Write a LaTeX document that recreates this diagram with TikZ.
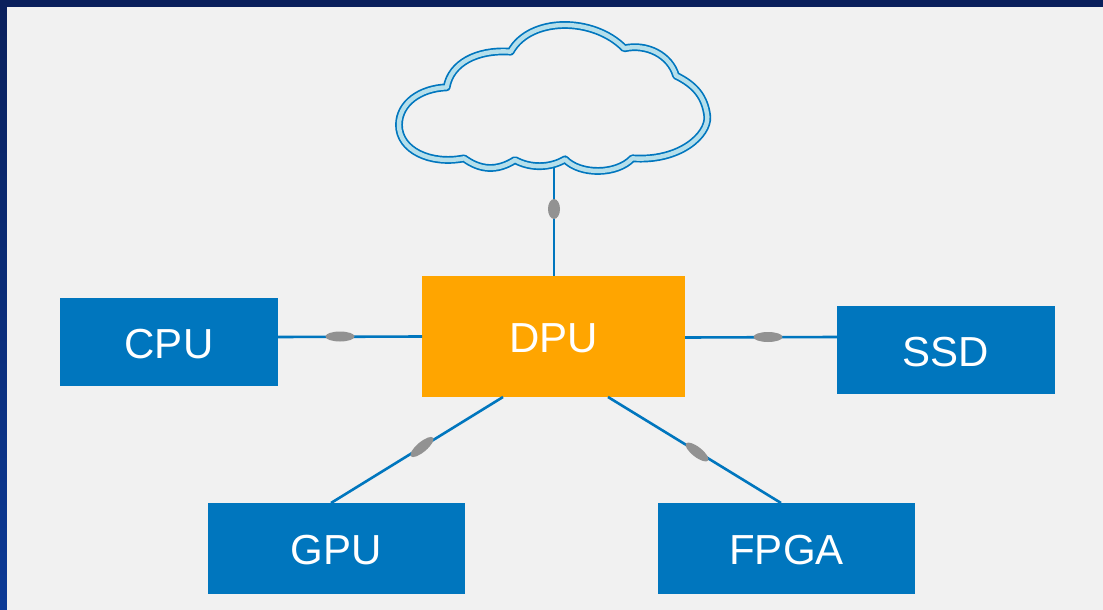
\documentclass[tikz,border=0pt]{standalone}
\usepackage{fontspec}
\setmainfont{Liberation Sans}
\usetikzlibrary{shapes.geometric,calc}
\definecolor{navytop}{HTML}{0A205C}
\definecolor{navybot}{HTML}{0B3A96}
\definecolor{panel}{HTML}{F1F1F1}
\definecolor{boxblue}{HTML}{0076BE}
\definecolor{orangebox}{HTML}{FFA500}
\definecolor{lenscol}{HTML}{929292}
\definecolor{cloudfill}{HTML}{B5DFEB}
\tikzset{
  labeltext/.style={text=white,inner sep=0pt,text height=32.4pt,text depth=0pt,font=\fontsize{42}{50}\selectfont},
  unitbox/.style={fill=boxblue,labeltext},
  dpubox/.style={fill=orangebox,labeltext},
  link/.style={draw=boxblue,line width=2.6pt},
  lens/.style={ellipse,fill=lenscol,inner sep=0pt,minimum width=29pt,minimum height=10pt}
}
\begin{document}
\begin{tikzpicture}[x=1pt,y=-1pt]
\useasboundingbox (0,0) rectangle (1103,610);
\shade[top color=navytop,bottom color=navybot] (0,0) rectangle (1103,610);
\fill[panel] (7,7) rectangle (1103,610);
% cloud
\begin{scope}[shift={(380,10)},x=.33333pt,y=-.33333pt]
\def\cloudpath{(200,232) .. controls (212,160) and (290,118) .. (392,125)
 .. controls (450,20) and (640,20) .. (733,115)
 .. controls (800,100) and (870,135) .. (888,197)
 .. controls (945,225) and (975,260) .. (982,320)
 .. controls (985,375) and (900,455) .. (757,445)
 .. controls (710,495) and (600,495) .. (555,448)
 .. controls (510,475) and (450,475) .. (405,450)
 .. controls (350,485) and (300,480) .. (252,445)
 .. controls (150,465) and (57,420) .. (57,345)
 .. controls (57,280) and (120,235) .. (200,232) -- cycle}
\draw[boxblue,line width=7.8pt,line join=round] \cloudpath;
\draw[cloudfill,line width=4.4pt,line join=round] \cloudpath;
\end{scope}
% boxes
\node[unitbox,minimum width=218pt,minimum height=88pt] (cpu) at (169,342) {CPU};
\node[dpubox,minimum width=263pt,minimum height=121pt] (dpu) at (553.5,336.5) {DPU};
\node[unitbox,minimum width=218pt,minimum height=88pt] (ssd) at (946,350) {SSD};
\node[unitbox,minimum width=257pt,minimum height=91pt] (gpu) at (336.5,548.5) {GPU};
\node[unitbox,minimum width=257pt,minimum height=91pt] (fpga) at (786.5,548.5) {FPGA};
% connector ends
\coordinate (cloudfoot) at (554,167);
\coordinate (dputop) at (554,276);
\coordinate (cpuend) at (278,337);
\coordinate (dpuleft) at (422,336.5);
\coordinate (dpuright) at (685,337.5);
\coordinate (ssdend) at (837,337);
\coordinate (dpusw) at (503,397);
\coordinate (gpuend) at (331,503);
\coordinate (dpuse) at (608,397);
\coordinate (fpgaend) at (781,503);
\draw[link] (cloudfoot) -- (dputop);
\draw[link] (cpuend) -- (dpuleft);
\draw[link] (dpuright) -- (ssdend);
\draw[link] (dpusw) -- (gpuend);
\draw[link] (dpuse) -- (fpgaend);
% lenses
\node[lens,minimum width=20pt,minimum height=12pt,rotate=90] (lenstop) at (554,209) {};
\node[lens] (lenscpu) at (340,336.5) {};
\node[lens] (lensssd) at (768,337) {};
\node[lens,minimum width=29pt,rotate=40] (lensgpu) at (422,447) {};
\node[lens,minimum width=28pt,rotate=-38] (lensfpga) at (697,452) {};
\end{tikzpicture}
\end{document}
